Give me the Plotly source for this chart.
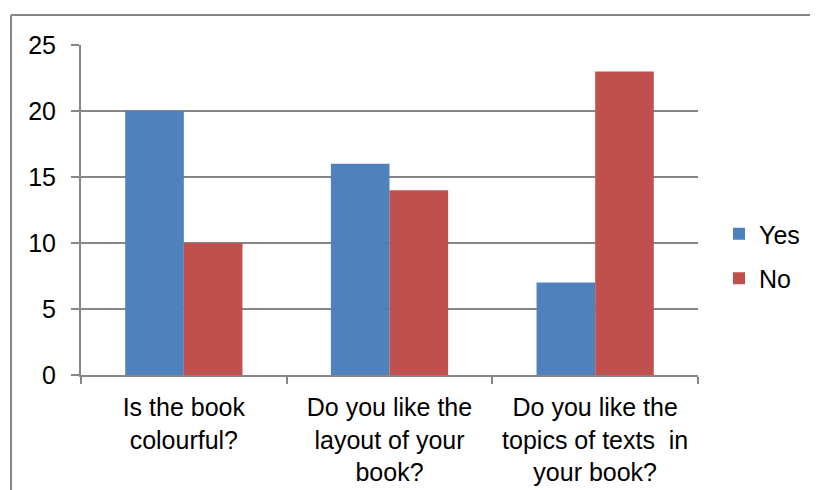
import plotly.graph_objects as go

categories = ["Is the book<br>colourful?",
              "Do you like the<br>layout of your<br>book?",
              "Do you like the<br>topics of texts&nbsp; in<br>your book?"]
yes_values = [20, 16, 7]
no_values = [10, 14, 23]
y_ticks = [0, 5, 10, 15, 20, 25]

# page body has an 8px offset, so work in figure coordinates
OFF = 8
W, H = 818, 490
L, R, T, B = 81 - OFF, 698 - OFF, 45 - OFF, 375 - OFF
pw, ph = R - L, B - T

def px(x):
    return (x - OFF - L) / pw

def py(y):
    return (B - (y - OFF)) / ph

grey = "#868686"
fnt = dict(family="Liberation Sans, Arial, sans-serif", size=25, color="#000000")

fig = go.Figure()
fig.add_trace(go.Bar(x=categories, y=yes_values, name="Yes",
                     marker=dict(color="#4F81BD", line=dict(width=0)), legendgroup="a"))
fig.add_trace(go.Bar(x=categories, y=no_values, name="No",
                     marker=dict(color="#C0504D", line=dict(width=0)), legendgroup="b"))

fig.update_layout(
    width=W, height=H,
    margin=dict(l=L, r=W - R, t=T, b=H - B, pad=0),
    paper_bgcolor="white", plot_bgcolor="white",
    barmode="group", bargap=0.43, bargroupgap=0,
    font=fnt,
    showlegend=True,
    legend=dict(x=px(719), y=py(256), xanchor="left", yanchor="middle",
                font=fnt, tracegroupgap=9, bgcolor="rgba(0,0,0,0)"),
    xaxis=dict(showline=True, linecolor=grey, linewidth=2,
               ticks="outside", tickson="boundaries", ticklen=7, tickcolor=grey, tickwidth=2,
               tickfont=fnt, showgrid=False, ticklabelstandoff=9),
    yaxis=dict(range=[0, 25], tickvals=y_ticks, showline=True, linecolor=grey, linewidth=2,
               ticks="outside", ticklen=8, tickcolor=grey, tickwidth=2,
               showgrid=True, gridcolor=grey, gridwidth=1.5, zeroline=False,
               tickfont=fnt, ticklabelstandoff=10),
    shapes=[
        dict(type="line", xref="paper", yref="paper", x0=px(11), x1=px(840), y0=py(15), y1=py(15),
             line=dict(color=grey, width=2)),
        dict(type="line", xref="paper", yref="paper", x0=px(11), x1=px(11), y0=py(15), y1=py(510),
             line=dict(color=grey, width=2)),
    ],
)

fig.write_html("out.html")
